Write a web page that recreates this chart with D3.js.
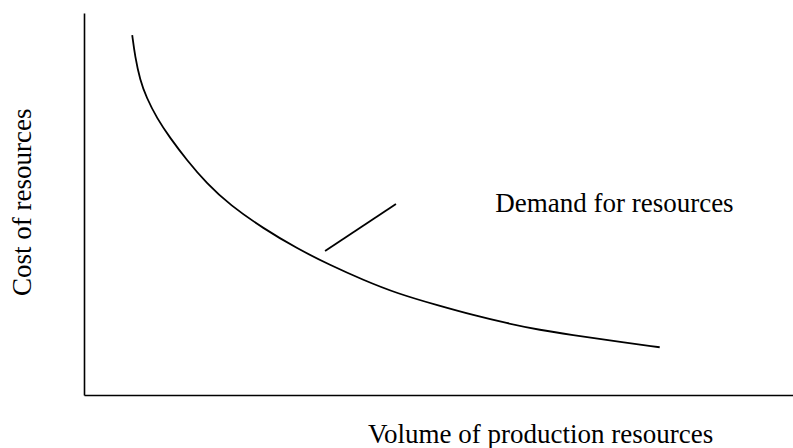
<!DOCTYPE html>
<html>
<head>
<meta charset="utf-8">
<script src="https://cdn.jsdelivr.net/npm/d3@7"></script>
<style>
  body { margin: 0; background: #fff; }
  text { font-family: "Liberation Serif", "Times New Roman", serif; fill: #000; }
</style>
</head>
<body>
<div class="chart"></div>
<script>
var svgWidth = 793;
var svgHeight = 448;

var margin = { top: 13, right: 0, bottom: 53, left: 84 };
var width = svgWidth - margin.left - margin.right;
var height = svgHeight - margin.top - margin.bottom;

// demand curve (volume 0-100, cost 0-100)
var volume = [6.8, 7.2, 7.9, 8.8, 10.3, 12.1, 14.5, 17.3, 20.6, 25.3, 30.0,
  34.7, 39.4, 44.1, 50.2, 54.9, 59.6, 64.3, 69.0, 73.7, 81.2];
var cost = [94.2, 88.6, 82.5, 77.9, 72.4, 67.4, 61.5, 55.4, 49.7, 43.6, 38.4,
  34.0, 30.1, 26.6, 23.3, 20.9, 18.8, 17.0, 15.7, 14.4, 12.5];

// leader line from the curve to the label
var pointerVolume = [34.0, 44.0];
var pointerCost = [37.7, 50.0];

var curveLabel = "Demand for resources";
var xLabel = "Volume of production resources";
var yLabel = "Cost of resources";

var svg = d3.select(".chart")
  .append("svg")
  .attr("width", svgWidth)
  .attr("height", svgHeight);

var chart = svg.append("g")
  .attr("transform", "translate(" + margin.left + "," + margin.top + ")");

var xScale = d3.scaleLinear().domain([0, 100]).range([0, width]);
var yScale = d3.scaleLinear().domain([0, 100]).range([height, 0]);

// axes are plain lines, no ticks
var bottomAxis = d3.axisBottom(xScale).tickValues([]).tickSizeOuter(0);
var leftAxis = d3.axisLeft(yScale).tickValues([]).tickSizeOuter(0);

chart.append("g")
  .attr("transform", "translate(0," + height + ")")
  .call(bottomAxis)
  .select(".domain")
  .attr("stroke", "#000")
  .attr("stroke-width", 1.6);

chart.append("g")
  .call(leftAxis)
  .select(".domain")
  .attr("stroke", "#000")
  .attr("stroke-width", 1.6);

var points = volume.map(function(v, i) { return [v, cost[i]]; });

var line = d3.line()
  .x(function(d) { return xScale(d[0]); })
  .y(function(d) { return yScale(d[1]); })
  .curve(d3.curveBasis);

chart.append("path")
  .datum(points)
  .attr("d", line)
  .attr("fill", "none")
  .attr("stroke", "#000")
  .attr("stroke-width", 1.8);

chart.append("line")
  .attr("x1", xScale(pointerVolume[0]))
  .attr("y1", yScale(pointerCost[0]))
  .attr("x2", xScale(pointerVolume[1]))
  .attr("y2", yScale(pointerCost[1]))
  .attr("stroke", "#000")
  .attr("stroke-width", 1.8);

chart.append("text")
  .attr("x", xScale(58.0))
  .attr("y", yScale(48.0))
  .style("font-size", "27px")
  .text(curveLabel);

// axis titles
svg.append("text")
  .attr("x", 368)
  .attr("y", 443)
  .style("font-size", "27px")
  .text(xLabel);

svg.append("text")
  .attr("transform", "translate(31,296) rotate(-90)")
  .style("font-size", "27px")
  .text(yLabel);
</script>
</body>
</html>
